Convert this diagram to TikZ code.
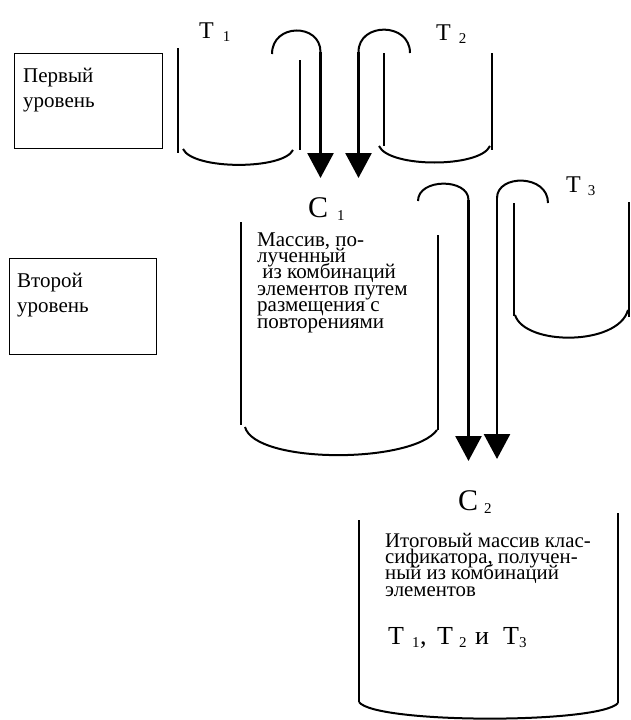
\documentclass[tikz,border=0pt]{standalone}
\usepackage{fontspec}
\setmainfont{Liberation Serif}
\usetikzlibrary{arrows.meta}
\newcommand\stacklines[2]{\vtop{\baselineskip=#1\lineskiplimit=-100pt\lineskip=0pt #2}}
\newcommand\subsc[1]{\raisebox{-3pt}{\fontsize{15}{15}\selectfont #1}}
\begin{document}
\begin{tikzpicture}[x=1pt,y=-1pt,
  wall/.style={line width=2.4pt},
  bottomarc/.style={line width=2pt},
  hook/.style={line width=2pt},
  flow/.style={line width=2.7pt,-{Triangle[width=26pt,length=25pt]}},
  lvlbox/.style={draw,line width=1pt,anchor=north west,inner sep=0},
  txt/.style={anchor=base west,inner sep=0,font=\fontsize{21}{25}\selectfont},
  biglbl/.style={anchor=base west,inner sep=0}]

\useasboundingbox (0,0) rectangle (631,720);

% level boxes
\node[lvlbox,minimum width=148pt,minimum height=95pt] (lvl1) at (14,53) {};
\node[txt] (lvl1txt) at (23,82) {\stacklines{25pt}{\hbox{Первый}\hbox{уровень}}};
\node[lvlbox,minimum width=147pt,minimum height=96pt] (lvl2) at (9,258) {};
\node[txt] (lvl2txt) at (17,287) {\stacklines{25pt}{\hbox{Второй}\hbox{уровень}}};

% T1 cylinder
\draw[wall] (178,48) -- (178,153);
\draw[wall] (300,60) -- (300,150);
\draw[bottomarc] (183,149) .. controls (193,170) and (283,170) .. (293,150);
\node[biglbl] (t1) at (199,38) {\fontsize{24}{24}\selectfont T\hspace{9pt}\subsc{1}};

% T2 cylinder
\draw[wall] (384,53) -- (384,146);
\draw[wall] (492,53) -- (492,150);
\draw[bottomarc] (379,146) .. controls (389,168) and (480,168) .. (490,146);
\node[biglbl] (t2) at (436,40) {\fontsize{24}{24}\selectfont T\hspace{8pt}\subsc{2}};

% T3 cylinder
\draw[wall] (514,203) -- (514,316);
\draw[wall] (629,202) -- (629,317);
\draw[bottomarc] (515,315) .. controls (525,346) and (618,346) .. (628,310);
\node[biglbl] (t3) at (566,192) {\fontsize{24}{24}\selectfont T\hspace{7pt}\subsc{3}};

% C1 cylinder
\draw[wall] (241,222) -- (241,425);
\draw[wall] (438,235) -- (438,430);
\draw[bottomarc] (245,427) .. controls (255,464) and (412,464) .. (437,430);
\node[biglbl] (c1) at (308,217) {\fontsize{30}{30}\selectfont C\hspace{9pt}\subsc{1}};
\node[txt] (c1txt) at (257,246) {\fontsize{21}{16.4}\selectfont\stacklines{16.4pt}{\hbox{Массив, по-}\hbox{лученный}\hbox{ из комбинаций}\hbox{элементов путем}\hbox{размещения с}\hbox{повторениями}}};

% C2 cylinder
\draw[wall] (359,520) -- (359,702);
\draw[wall] (618,513) -- (618,703);
\draw[bottomarc] (359,702) .. controls (375,724) and (600,724) .. (618,703);
\node[biglbl] (c2) at (458,510) {\fontsize{30}{30}\selectfont C\hspace{6pt}\subsc{2}};
\node[txt] (c2txt) at (385,547) {\fontsize{20.8}{16.4}\selectfont\stacklines{16.4pt}{\hbox{Итоговый массив клас-}\hbox{сификатора, получен-}\hbox{ный из комбинаций}\hbox{элементов}}};
\node[biglbl] (c2tt) at (388,644) {\fontsize{26}{26}\selectfont
  \makebox[24pt][l]{T}\makebox[8pt][l]{\subsc{1}}\makebox[17pt][l]{,}\makebox[22pt][l]{T}\makebox[16pt][l]{\subsc{2}}\makebox[28pt][l]{и}T\subsc{3}};

% arrows: T1 -> C1
\coordinate (a1s) at (272,54);
\coordinate (a1k) at (320.5,52);
\coordinate (a1t) at (320.5,178);
\draw[hook] (a1s) .. controls (272,23) and (320.5,23) .. (a1k);
\draw[flow] (a1k) -- (a1t);

% T2 -> C1
\coordinate (a2s) at (410,53);
\coordinate (a2k) at (358.5,52);
\coordinate (a2t) at (358.5,178);
\draw[hook] (a2s) .. controls (410,22) and (358.5,22) .. (a2k);
\draw[flow] (a2k) -- (a2t);

% C1 -> C2
\coordinate (a3s) at (418,201);
\coordinate (a3k) at (468.5,200);
\coordinate (a3t) at (468.5,461);
\draw[hook] (a3s) .. controls (418,178) and (468.5,178) .. (a3k);
\draw[flow] (a3k) -- (a3t);

% T3 -> C2
\coordinate (a4s) at (548,203);
\coordinate (a4k) at (497,198);
\coordinate (a4t) at (497,459);
\draw[hook] (a4s) .. controls (548,174) and (497,174) .. (a4k);
\draw[flow] (a4k) -- (a4t);

\end{tikzpicture}
\end{document}
